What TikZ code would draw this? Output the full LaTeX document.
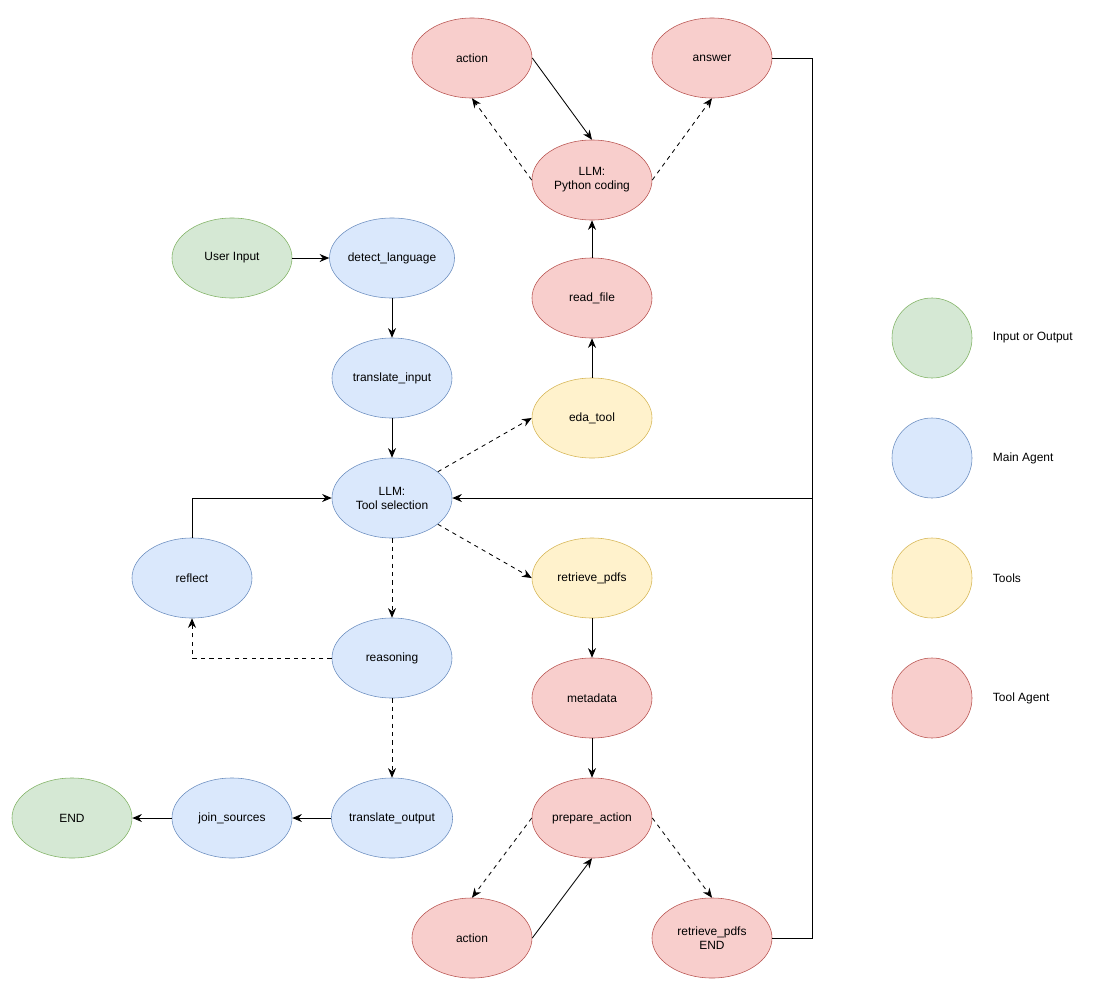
\documentclass[tikz,border=0pt]{standalone}
\usepackage{fontspec}
\setmainfont{Liberation Sans}
\usetikzlibrary{arrows.meta,shapes.geometric}

\definecolor{ioFill}{HTML}{D5E8D4}\definecolor{ioLine}{HTML}{82B366}
\definecolor{maFill}{HTML}{DAE8FC}\definecolor{maLine}{HTML}{6C8EBF}
\definecolor{tlFill}{HTML}{FFF2CC}\definecolor{tlLine}{HTML}{D6B656}
\definecolor{taFill}{HTML}{F8CECC}\definecolor{taLine}{HTML}{B85450}

\begin{document}
\begin{tikzpicture}[
  x=0.025cm, y=-0.025cm,
  font=\fontsize{8.5}{10}\selectfont,
  >={Stealth[length=2.4mm,width=2mm]},
  blob/.style={ellipse,draw=#1Line,fill=#1Fill,align=center,inner sep=0pt,
               minimum width=3cm,minimum height=2cm},
  dot/.style={circle,draw=#1Line,fill=#1Fill,minimum size=2cm,inner sep=0pt},
  flow/.style={->,semithick},
  maybe/.style={->,semithick,dashed},
  lbl/.style={anchor=west},
]
\useasboundingbox (0,0) rectangle (1100,1000);

% --- main agent column ---
\node[blob=io] (user)   at (232,258) {User Input};
\node[blob=ma] (detect) at (392,258) {detect\_language};
\node[blob=ma] (trin)   at (392,378) {translate\_input};
\node[blob=ma] (select) at (392,498) {LLM:\\Tool selection};
\node[blob=ma] (reflect) at (192,578) {reflect};
\node[blob=ma] (reason) at (392,658) {reasoning};
\node[blob=ma] (trout)  at (392,818) {translate\_output};
\node[blob=ma] (join)   at (232,818) {join\_sources};
\node[blob=io] (fin)    at (72,818)  {END};

% --- eda branch ---
\node[blob=tl] (eda)    at (592,418) {eda\_tool};
\node[blob=ta] (readf)  at (592,298) {read\_file};
\node[blob=ta] (coder)  at (592,180) {LLM:\\Python coding};
\node[blob=ta] (actA)   at (472,58)  {action};
\node[blob=ta] (answer) at (712,58)  {answer};

% --- pdf branch ---
\node[blob=tl] (pdfs)   at (592,578) {retrieve\_pdfs};
\node[blob=ta] (meta)   at (592,698) {metadata};
\node[blob=ta] (prep)   at (592,818) {prepare\_action};
\node[blob=ta] (actB)   at (472,938) {action};
\node[blob=ta] (pdfEnd) at (712,938) {retrieve\_pdfs\\END};

% --- return bus on the right ---
\coordinate (busTop) at (812,58);
\coordinate (busMid) at (812,498);
\coordinate (busBot) at (812,938);

% --- main flow ---
\draw[flow] (user) -- (detect);
\draw[flow] (detect) -- (trin);
\draw[flow] (trin) -- (select);
\draw[maybe] (select) -- (reason);
\draw[maybe] (reason.west) -| (reflect.south);
\draw[flow] (reflect.north) |- (select.west);
\draw[maybe] (reason) -- (trout);
\draw[flow] (trout) -- (join);
\draw[flow] (join) -- (fin);

% --- tool calls ---
\draw[maybe] (select) -- (eda.west);
\draw[maybe] (select) -- (pdfs.west);

\draw[flow] (eda) -- (readf);
\draw[flow] (readf) -- (coder);
\draw[maybe] (coder.west) -- (actA.south);
\draw[flow] (actA.east) -- (coder.north);
\draw[maybe] (coder.east) -- (answer.south);

\draw[flow] (pdfs) -- (meta);
\draw[flow] (meta) -- (prep);
\draw[maybe] (prep.west) -- (actB.north);
\draw[flow] (actB.east) -- (prep.south);
\draw[maybe] (prep.east) -- (pdfEnd.north);

\draw[semithick] (answer.east) -- (busTop) -- (busBot) -- (pdfEnd.east);
\draw[flow] (busMid) -- (select.east);

% --- legend ---
\node[dot=io] (keyIO) at (932,338) {};
\node[dot=ma] (keyMA) at (932,458) {};
\node[dot=tl] (keyTL) at (932,578) {};
\node[dot=ta] (keyTA) at (932,698) {};
\node[lbl] at (988,338) {Input or Output};
\node[lbl] at (988,458) {Main Agent};
\node[lbl] at (988,578) {Tools};
\node[lbl] at (988,698) {Tool Agent};

\end{tikzpicture}
\end{document}
